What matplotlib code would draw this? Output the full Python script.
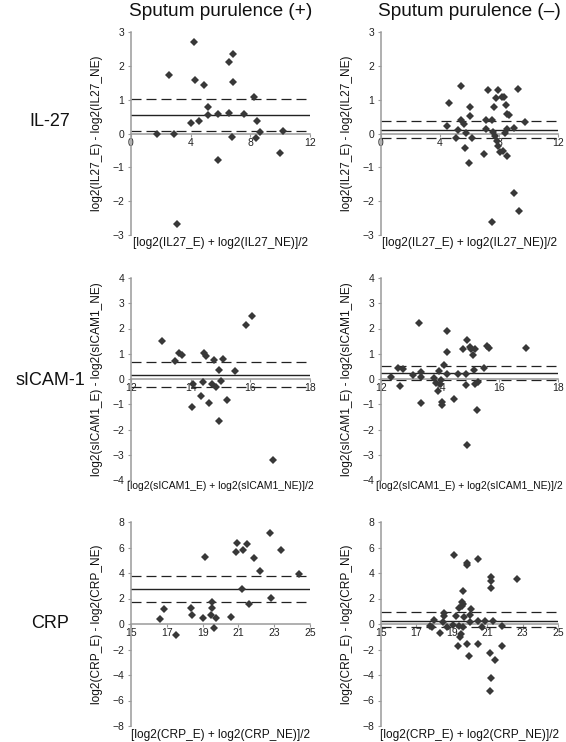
"""Bland-Altman style agreement plots for IL-27, sICAM-1 and CRP by sputum purulence."""

import matplotlib

matplotlib.use("Agg")
import matplotlib.pyplot as plt

plt.rcParams["font.family"] = ["Liberation Sans", "DejaVu Sans"]

COLUMN_TITLES = ["Sputum purulence (+)", "Sputum purulence (\u2013)"]
ROW_NAMES = ["IL-27", "sICAM-1", "CRP"]
ANALYTES = ["IL27", "sICAM1", "CRP"]

X_TICKS = [[0, 4, 8, 12], [12, 14, 16, 18], [15, 17, 19, 21, 23, 25]]
Y_TICKS = [[-3, -2, -1, 0, 1, 2, 3], [-4, -3, -2, -1, 0, 1, 2, 3, 4],
           [-8, -6, -4, -2, 0, 2, 4, 6, 8]]

# IL-27, purulent
IL27_POS_AVG = [1.73, 2.58, 2.87, 3.07, 4.01, 4.19, 4.26, 4.57, 4.87, 5.16, 5.16, 5.85,
                5.85, 6.57, 6.57, 6.84, 6.82, 6.79, 7.60, 8.27, 8.43, 8.41, 8.63, 10.0, 10.16]
IL27_POS_DIFF = [0.0, 1.74, 0.0, -2.67, 0.30, 2.70, 1.59, 0.38, 1.42, 0.79, 0.55, 0.59,
                 -0.79, 2.11, 0.62, 2.34, 1.51, -0.10, 0.57, 1.07, 0.38, -0.12, 0.03, -0.59, 0.08]

# IL-27, non-purulent
IL27_NEG_AVG = [4.48, 4.60, 5.07, 5.22, 5.45, 5.45, 5.63, 5.67, 5.78, 5.99, 6.01, 6.01,
                6.17, 6.99, 7.11, 7.11, 7.24, 7.51, 7.51, 7.62, 7.69, 7.73, 7.80, 7.85,
                7.91, 7.96, 8.07, 8.18, 8.29, 8.36, 8.41, 8.45, 8.52, 8.52, 8.52, 8.67,
                9.03, 9.03, 9.26, 9.37, 9.75]
IL27_NEG_DIFF = [0.21, 0.91, -0.13, 0.11, 1.40, 0.41, 0.29, -0.44, 0.01, -0.87, 0.77, 0.52,
                 -0.13, -0.61, 0.41, 0.14, 1.28, 0.41, -2.61, 0.04, 0.77, -0.06, 1.05, -0.21,
                 -0.36, 1.30, -0.56, 1.08, -0.51, 1.08, 0.02, 0.83, 0.59, 0.12, -0.66, 0.54,
                 0.16, -1.75, 1.33, -2.29, 0.34]

# sICAM-1, purulent
SICAM_POS_AVG = [13.03, 13.46, 13.62, 13.71, 14.08, 14.06, 14.35, 14.40, 14.44, 14.52, 14.62,
                 14.72, 14.77, 14.84, 14.95, 14.94, 15.00, 15.07, 15.22, 15.47, 15.86, 16.07, 16.76]
SICAM_POS_DIFF = [1.49, 0.73, 1.02, 0.96, -0.18, -1.12, -0.66, -0.11, 1.04, 0.90, -0.95,
                  -0.18, 0.74, -0.32, 0.34, -1.65, -0.08, 0.79, -0.85, 0.33, 2.15, 2.48, -3.20]

# sICAM-1, non-purulent
SICAM_NEG_AVG = [12.34, 12.59, 12.66, 12.73, 13.10, 13.28, 13.36, 13.36, 13.36, 13.81, 13.85,
                 13.93, 13.96, 14.00, 14.05, 14.06, 14.07, 14.13, 14.23, 14.23, 14.24, 14.49,
                 14.61, 14.78, 14.87, 14.87, 14.91, 14.91, 15.00, 15.06, 15.12, 15.15, 15.17,
                 15.17, 15.26, 15.29, 15.49, 15.59, 15.66, 16.93]
SICAM_NEG_DIFF = [0.06, 0.45, -0.28, 0.38, 0.15, 2.20, 0.28, 0.08, -0.95, 0.02, -0.16,
                  -0.48, 0.31, -0.18, -0.03, -0.91, -1.02, 0.54, 1.90, 1.05, 0.21, -0.78,
                  0.19, 1.18, 0.21, -0.25, 1.54, -2.63, 1.27, 1.17, 0.97, 0.37, 1.18,
                  -0.18, -1.21, -0.12, 0.45, 1.31, 1.21, 1.24]

# CRP, purulent
CRP_POS_AVG = [16.60, 16.83, 17.49, 18.37, 18.39, 19.03, 19.16, 19.46, 19.50, 19.54, 19.63,
               19.75, 20.61, 20.89, 20.91, 21.20, 21.23, 21.46, 21.57, 21.89, 22.21, 22.78,
               22.83, 23.40, 24.38]
CRP_POS_DIFF = [0.42, 1.18, -0.89, 1.23, 0.73, 0.45, 5.22, 0.71, 1.26, 1.76, -0.31,
                0.45, 0.55, 5.67, 6.33, 2.76, 5.80, 6.25, 1.55, 5.14, 4.12, 7.14,
                2.05, 5.83, 3.96]

# CRP, non-purulent
CRP_NEG_AVG = [17.79, 17.88, 18.02, 18.34, 18.49, 18.54, 18.58, 18.73, 19.05, 19.15, 19.24,
               19.34, 19.38, 19.43, 19.47, 19.53, 19.56, 19.58, 19.62, 19.66, 19.66, 19.71,
               19.85, 19.85, 19.87, 19.96, 20.00, 20.00, 20.09, 20.47, 20.47, 20.47, 20.72,
               20.90, 21.17, 21.17, 21.19, 21.19, 21.19, 21.22, 21.32, 21.45, 21.83, 21.83, 22.70]
CRP_NEG_DIFF = [-0.13, -0.26, 0.31, -0.73, 0.18, 0.63, 0.89, -0.26, -0.08, 5.43, 0.63,
                -1.73, -0.16, 1.24, -1.05, -0.80, 1.44, 1.71, -0.26, 2.55, 1.55, 0.58,
                4.78, 4.65, -1.60, -2.49, 0.71, 0.18, 1.16, 5.09, 0.26, -1.57, -0.26,
                0.26, -2.26, -5.28, 3.65, 3.39, 2.81, -4.23, 0.26, -2.83, -0.13, -1.71, 3.52]

# mean difference and its limits: (lower, mean, upper), row by row, (+) then (-)
BIAS_LINES = [
    [(0.08, 0.55, 1.02), (-0.14, 0.11, 0.36)],
    [(-0.33, 0.17, 0.68), (-0.02, 0.25, 0.52)],
    [(1.73, 2.73, 3.76), (-0.26, 0.26, 0.97)],
]

POINTS = [
    [(IL27_POS_AVG, IL27_POS_DIFF), (IL27_NEG_AVG, IL27_NEG_DIFF)],
    [(SICAM_POS_AVG, SICAM_POS_DIFF), (SICAM_NEG_AVG, SICAM_NEG_DIFF)],
    [(CRP_POS_AVG, CRP_POS_DIFF), (CRP_NEG_AVG, CRP_NEG_DIFF)],
]

W, H = 566, 742
COL_LEFT = [131, 381]
COL_WIDTH = [179, 177]
ROW_TOP = [32, 278, 522]
ROW_HEIGHT = [203, 202, 204]
ROW_LABEL_Y = [122, 380, 624]
XLABEL_SIZE = [8.6, 7.5, 8.6]
XLABEL_OFFSET = [-0.04, -0.028, -0.043]

AXIS_GREY = "#9a9a9a"
MARK = "#383838"

fig = plt.figure(figsize=(W / 100, H / 100), dpi=100)

for r in range(3):
    for c in range(2):
        ax = fig.add_axes([COL_LEFT[c] / W, 1 - (ROW_TOP[r] + ROW_HEIGHT[r]) / H,
                           COL_WIDTH[c] / W, ROW_HEIGHT[r] / H])
        xt, yt = X_TICKS[r], Y_TICKS[r]
        ax.set_xlim(xt[0], xt[-1])
        ax.set_ylim(yt[0], yt[-1])
        ax.set_xticks(xt)
        ax.set_yticks(yt)
        ax.set_yticklabels([str(v).replace("-", "\u2212") for v in yt])

        for side in ("top", "right"):
            ax.spines[side].set_visible(False)
        ax.spines["bottom"].set_position(("data", 0))
        for side in ("bottom", "left"):
            ax.spines[side].set_color(AXIS_GREY)
            ax.spines[side].set_linewidth(1.1)
        ax.tick_params(axis="both", color=AXIS_GREY, length=2.5, width=0.8,
                       labelsize=7.5, labelcolor="#222222")
        ax.tick_params(axis="x", pad=0.5)
        ax.tick_params(axis="y", pad=2.5)

        lower, mean, upper = BIAS_LINES[r][c]
        ax.axhline(mean, color="#222222", linewidth=1.0, zorder=2)
        for level in (lower, upper):
            ax.axhline(level, color="#222222", linewidth=0.9, dashes=(8, 4), zorder=2)

        xs, ys = POINTS[r][c]
        ax.plot(xs, ys, linestyle="none", marker="D", markersize=3.8,
                color=MARK, markeredgewidth=0, zorder=3, clip_on=False)

        name = ANALYTES[r]
        ax.text(-0.19, 0.5, f"log2({name}_E) - log2({name}_NE)", transform=ax.transAxes,
                rotation=90, ha="center", va="center", fontsize=8.6, color="#111111")
        ax.text(0.5, XLABEL_OFFSET[r], f"[log2({name}_E) + log2({name}_NE)]/2",
                transform=ax.transAxes, ha="center", va="center",
                fontsize=XLABEL_SIZE[r], color="#111111")

        if r == 0:
            fig.text((COL_LEFT[c] + COL_WIDTH[c] / 2) / W, 1 - 12 / H, COLUMN_TITLES[c],
                     ha="center", va="center", fontsize=13.7, color="#111111")

    fig.text(50 / W, 1 - ROW_LABEL_Y[r] / H, ROW_NAMES[r], ha="center", va="center",
             fontsize=13, color="#111111")

fig.savefig("out.png", dpi=100)
